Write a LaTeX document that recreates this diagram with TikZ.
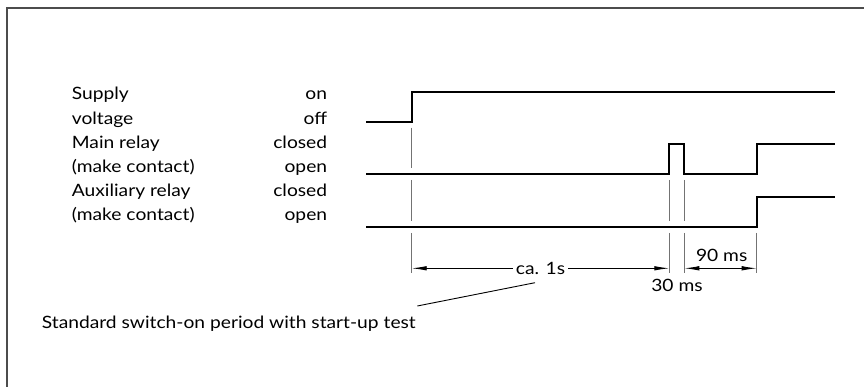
\documentclass[tikz,border=0pt]{standalone}
\usepackage{fontspec}
\setmainfont{Lato}[FakeStretch=1.13]
\usetikzlibrary{arrows.meta}
\begin{document}
\begin{tikzpicture}[x=1pt,y=-1pt,
  sig/.style={line width=2pt, line join=miter},
  guide/.style={black!55, line width=1pt},
  tip/.tip={Latex[length=15pt,width=4.5pt]},
  dimline/.style={line width=0.9pt, tip-tip},
  lbl/.style={font=\fontsize{17}{20}\selectfont, inner sep=0pt, anchor=base west},
  lblr/.style={font=\fontsize{17}{20}\selectfont, inner sep=0pt, anchor=base east},
  txt/.style={font=\fontsize{17}{20}\selectfont, inner sep=0pt}]
\useasboundingbox (0,0) rectangle (864,387);
\draw[line width=1.5pt, black!70] (7,387) -- (7,8) -- (864,8);

% left labels
\node[lbl] (l1) at (71.7,100) {Supply};
\node[lbl] (l2) at (71.7,124.2) {voltage};
\node[lbl] (l3) at (71.7,148.4) {Main relay};
\node[lbl] (l4) at (71.7,172.6) {(make contact)};
\node[lbl] (l5) at (71.7,196.8) {Auxiliary relay};
\node[lbl] (l6) at (71.7,221) {(make contact)};
% right labels
\node[lblr] (r1) at (327.3,100) {on};
\node[lblr] (r2) at (327.3,124.2) {off};
\node[lblr] (r3) at (327.3,148.4) {closed};
\node[lblr] (r4) at (327.3,172.6) {open};
\node[lblr] (r5) at (327.3,196.8) {closed};
\node[lblr] (r6) at (327.3,221) {open};

% signals
\draw[sig] (366,121.7) -- (411.7,121.7) -- (411.7,91.7) -- (835,91.7);
\draw[sig] (366,174.3) -- (669.3,174.3) -- (669.3,144.3) -- (684.3,144.3) -- (684.3,174.3) -- (756.7,174.3) -- (756.7,144.3) -- (835,144.3);
\draw[sig] (366,227) -- (756.7,227) -- (756.7,197.3) -- (835,197.3);

% guide lines
\draw[guide] (411.7,127.7) -- (411.7,167.7);
\draw[guide] (411.7,180) -- (411.7,221);
\draw[guide] (411.7,233) -- (411.7,272.7);
\draw[guide] (669.3,180) -- (669.3,221);
\draw[guide] (669.3,233) -- (669.3,272.7);
\draw[guide] (684.3,180) -- (684.3,221);
\draw[guide] (684.3,233) -- (684.3,272.7);
\draw[guide] (756.7,233) -- (756.7,272.7);

% dimensions
\coordinate (d1) at (411.7,268.3);
\coordinate (d2) at (669.3,268.3);
\coordinate (d3) at (684.3,268.3);
\coordinate (d4) at (756.7,268.3);
\draw[dimline] (d1) -- node[txt, fill=white, inner xsep=3pt, inner ysep=1pt] (ca) {ca. 1s} (d2);
\draw[dimline] (d3) -- (d4);
\node[txt] (n90) at (721.7,255) {90 ms};
\node[txt] (n30) at (677,285) {30 ms};

% leader
\coordinate (la) at (535,282.7);
\coordinate (lb) at (417.3,306);
\draw[line width=0.9pt] (la) -- (lb);
\node[font=\fontsize{17}{20}\selectfont, inner sep=0pt, anchor=base west] (std) at (41.7,328.3) {Standard switch-on period with start-up test};
\end{tikzpicture}
\end{document}
